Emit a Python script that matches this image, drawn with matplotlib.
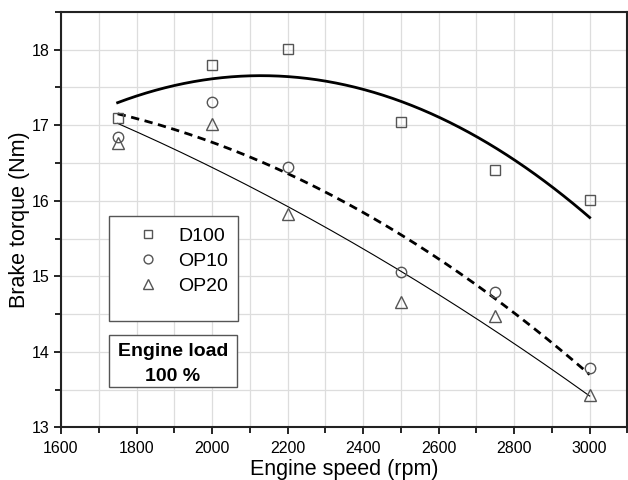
import numpy as np
import matplotlib
matplotlib.use("Agg")
import matplotlib.pyplot as plt
from matplotlib.ticker import MultipleLocator
from matplotlib.patches import Rectangle

plt.rcParams['font.family'] = ['Liberation Sans', 'DejaVu Sans']

speed = [1750, 2000, 2200, 2500, 2750, 3000]
d100 = [17.09, 17.79, 18.01, 17.04, 16.41, 16.01]
op10 = [16.85, 17.31, 16.44, 15.06, 14.79, 13.79]
op20 = [16.76, 17.01, 15.82, 14.66, 14.47, 13.43]
labels = ['D100', 'OP10', 'OP20']

fig = plt.figure(figsize=(6.28, 4.8), dpi=100)
ax = fig.add_axes([0.0971, 0.1094, 0.902, 0.866])

mk_kw = dict(linestyle='none', markerfacecolor='none', markeredgecolor='#555555',
             markeredgewidth=1.0, zorder=4)
h1, = ax.plot(speed, d100, marker='s', markersize=7, label=labels[0], **mk_kw)
h2, = ax.plot(speed, op10, marker='o', markersize=7.5, label=labels[1], **mk_kw)
h3, = ax.plot(speed, op20, marker='^', markersize=8, label=labels[2], **mk_kw)

xs = np.linspace(speed[0], speed[-1], 200)
for ys, ls, lw in [(d100, '-', 2.0), (op10, (0, (3, 2)), 2.0), (op20, '-', 0.8)]:
    c = np.polyfit(speed, ys, 2)
    ax.plot(xs, np.polyval(c, xs), color='black', linestyle=ls, linewidth=lw, zorder=3)

ax.set_xlim(1600, 3100)
ax.set_ylim(13, 18.5)
ax.xaxis.set_major_locator(MultipleLocator(200))
ax.xaxis.set_minor_locator(MultipleLocator(100))
ax.yaxis.set_major_locator(MultipleLocator(1))
ax.yaxis.set_minor_locator(MultipleLocator(0.5))
ax.grid(True, which='both', color='#dddddd', linewidth=0.9, zorder=0)
ax.set_axisbelow(True)
ax.tick_params(which='major', direction='out', length=5, width=1.2, labelsize=11.5, colors='black')
ax.tick_params(axis='x', which='major', pad=5)
ax.tick_params(which='minor', direction='out', length=4, width=1.2)
for s in ax.spines.values():
    s.set_linewidth(1.5)
    s.set_color('#222222')

ax.set_xlabel('Engine speed (rpm)', fontsize=15.5, labelpad=2)
ax.set_ylabel('Brake torque (Nm)', fontsize=15.5, labelpad=1)

# legend frame (drawn separately to match the taller box)
ax.add_patch(Rectangle((0.0847, 0.2563), 0.2277, 0.2527, transform=ax.transAxes,
                       facecolor='white', edgecolor='#555555', linewidth=1.0, zorder=5))
leg = ax.legend(handles=[h1, h2, h3], loc='upper left', bbox_to_anchor=(0.1267, 0.4825),
                fontsize=14, frameon=False, markerscale=0.85,
                borderpad=0.0, labelspacing=0.38, handletextpad=0.75, borderaxespad=0,
                handlelength=1.6)
leg.set_zorder(6)

# Engine load box
ax.add_patch(Rectangle((0.0847, 0.0963), 0.2259, 0.1268, transform=ax.transAxes,
                       facecolor='white', edgecolor='#555555', linewidth=1.0, zorder=5))
ax.text(0.1977, 0.153, 'Engine load\n100 %', transform=ax.transAxes, ha='center', va='center',
        fontsize=14, fontweight='bold', linespacing=1.65, zorder=6)

fig.savefig('out.png', dpi=100)
